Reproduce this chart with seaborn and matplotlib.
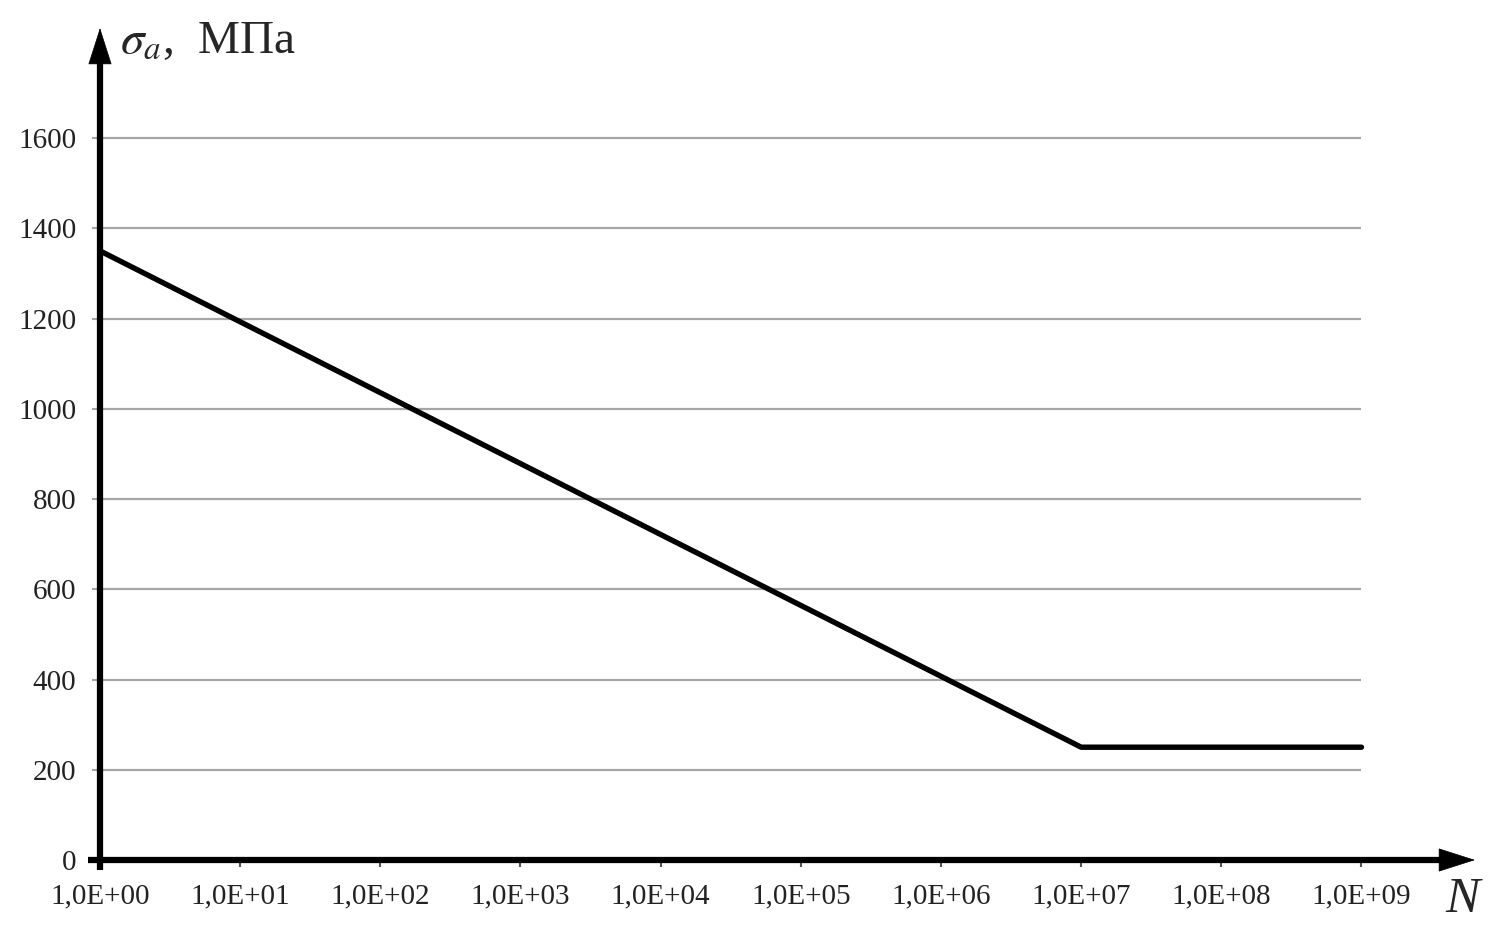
import numpy as np
import matplotlib
matplotlib.use("Agg")
import matplotlib.pyplot as plt
import seaborn as sns
from matplotlib.ticker import FixedLocator, FuncFormatter, NullLocator

# данные кривой усталости
cycles = [1e0, 1e7, 1e9]
stress = [1350, 250, 250]
y_ticks = [0, 200, 400, 600, 800, 1000, 1200, 1400, 1600]
x_ticks = [10.0 ** k for k in range(10)]

sns.set_style("white")
plt.rcParams["font.family"] = ["Liberation Serif", "DejaVu Serif"]
plt.rcParams["mathtext.fontset"] = "stix"

W, H = 1492, 934
fig = plt.figure(figsize=(W / 100, H / 100), dpi=100)
ax = fig.add_axes([100 / W, (H - 860) / H, (1475 - 100) / W, (860 - 28) / H])

ax.set_xscale("log")
ax.set_xlim(1, 10 ** 9.81)
ax.set_ylim(0, 1844)

# сетка только до 1E+09
ax.hlines(y_ticks[1:], 1, 1e9, color="#a6a6a6", lw=1.6, zorder=1)

sns.lineplot(x=cycles, y=stress, ax=ax, color="black", lw=3.9, zorder=3)

for s in ax.spines.values():
    s.set_visible(False)

ax.yaxis.set_major_locator(FixedLocator(y_ticks))
ax.xaxis.set_major_locator(FixedLocator(x_ticks))
ax.xaxis.set_minor_locator(NullLocator())
ax.xaxis.set_major_formatter(FuncFormatter(lambda v, p: "1,0E+%02d" % int(round(np.log10(v)))))
ax.tick_params(axis="y", left=True, length=6, width=1.5, color="#a6a6a6",
               pad=11, labelsize=21, labelcolor="#222222")
ax.tick_params(axis="x", bottom=True, length=5, width=1.5, color="#555555",
               pad=12, labelsize=21, labelcolor="#222222")

# оси: толстая линия + острый наконечник
head = dict(arrowstyle="-|>,head_length=1.25,head_width=0.4", lw=0.5,
            color="black", shrinkA=0, shrinkB=0, mutation_scale=20)
ax.plot([-0.009, 0.98], [0, 0], transform=ax.transAxes, color="black", lw=4.5,
        solid_capstyle="butt", clip_on=False, zorder=5)
ax.plot([0, 0], [-0.012, 0.97], transform=ax.transAxes, color="black", lw=4.5,
        solid_capstyle="butt", clip_on=False, zorder=5)
ax.annotate("", xy=(1, 0), xytext=(0.96, 0), xycoords="axes fraction",
            arrowprops=head, annotation_clip=False, zorder=6)
ax.annotate("", xy=(0, 1), xytext=(0, 0.94), xycoords="axes fraction",
            arrowprops=head, annotation_clip=False, zorder=6)

fig.text(120 / W, 1 - 53 / H, r"$\sigma_a$,  МПа", fontsize=34, ha="left", va="baseline")
fig.text(1445 / W, 1 - 912 / H, "N", fontsize=37, style="italic", ha="left", va="baseline")

fig.savefig("out.png", dpi=100)
